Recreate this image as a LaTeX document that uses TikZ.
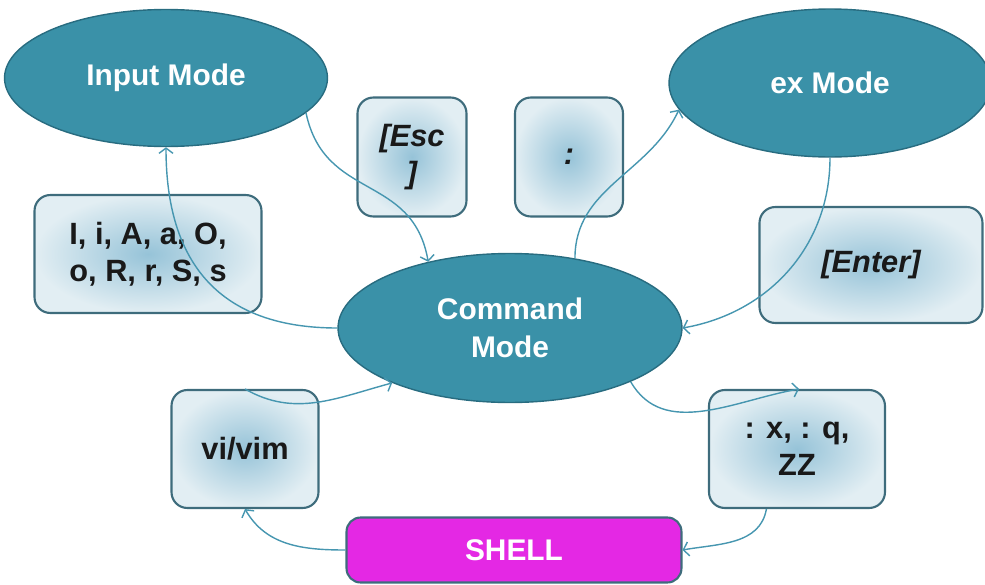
\documentclass[tikz,border=0pt]{standalone}
\usepackage{fontspec}
\setmainfont{Liberation Sans}
\usepackage{tikz}
\usetikzlibrary{shapes.geometric}
\usetikzlibrary{arrows.meta}
\definecolor{modefill}{RGB}{58,145,168}
\definecolor{modeline}{RGB}{40,108,128}
\definecolor{boxline}{RGB}{62,108,124}
\definecolor{boxin}{RGB}{150,195,216}
\definecolor{boxout}{RGB}{226,238,243}
\definecolor{shellfill}{RGB}{228,40,228}
\definecolor{linkcol}{RGB}{70,150,176}
\tikzset{
    mode/.style={ellipse, fill=modefill, draw=modeline, line width=0.8pt,
        text=white, align=center, inner sep=0pt,
        font=\fontsize{17}{21.5}\selectfont\bfseries},
    keybox/.style={rectangle, rounded corners=9pt, draw=boxline, line width=1.2pt,
        shading=radial, inner color=boxin, outer color=boxout,
        text=black!90, align=center, inner sep=0pt,
        font=\fontsize{17.5}{21}\selectfont\bfseries},
    shellbox/.style={rectangle, rounded corners=8pt, fill=shellfill, draw=boxline,
        line width=1.2pt, text=white, inner sep=0pt,
        font=\fontsize{17}{21}\selectfont\bfseries},
    link/.style={draw=linkcol, line width=0.8pt,
        -{Straight Barb[length=3pt,width=8pt]}}
}
\begin{document}
\begin{tikzpicture}[x=0.02cm,y=0.02cm]
	\useasboundingbox (0,0) rectangle (985,-585);
	% modes
	\node[mode, minimum width=6.46cm, minimum height=2.74cm] (inmode) at (166,-78) {Input Mode};
	\node[mode, minimum width=6.44cm, minimum height=2.96cm] (exmode) at (830,-83) {ex Mode};
	\node[mode, minimum width=6.88cm, minimum height=2.98cm] (cmd) at (510,-328) {Command\\Mode};
	% keys
	\node[keybox, minimum width=4.54cm, minimum height=2.36cm] (ikeys) at (148,-254) {I, i, A, a, O,\\o, R, r, S, s};
	\node[keybox, minimum width=2.18cm, minimum height=2.38cm] (esc) at (412,-157) {\itshape [Esc\\\itshape ]};
	\node[keybox, minimum width=2.16cm, minimum height=2.38cm] (colon) at (569,-157) {\itshape :};
	\node[keybox, minimum width=4.46cm, minimum height=2.32cm] (enter) at (871,-265) {\itshape [Enter]};
	\node[keybox, minimum width=2.94cm, minimum height=2.36cm] (vivim) at (245,-449) {vi/vim};
	\node[keybox, minimum width=3.52cm, minimum height=2.36cm] (zz) at (797,-449) {: x, : q,\\ZZ};
	\node[shellbox, minimum width=6.70cm, minimum height=1.30cm] (shell) at (514,-550) {SHELL};
	% transitions
	\draw[link] (inmode.-14) to[out=-78,in=100,looseness=1.2] (cmd.141);
	\draw[link] (cmd.180) to[out=180,in=-90,looseness=1.2] (inmode.270);
	\draw[link] (cmd.47) to[out=90,in=-115] (exmode.190);
	\draw[link] (exmode.270) to[out=-90,in=10] (cmd.0);
	\draw[link] (vivim.north) to[out=-30,in=195] (cmd.205);
	\draw[link] (cmd.-24) to[out=-60,in=190] (zz.88);
	\draw[link] (zz.243) to[out=-100,in=10] (shell.east);
	\draw[link] (shell.west) to[out=180,in=-60] (vivim.south);
\end{tikzpicture}
\end{document}
